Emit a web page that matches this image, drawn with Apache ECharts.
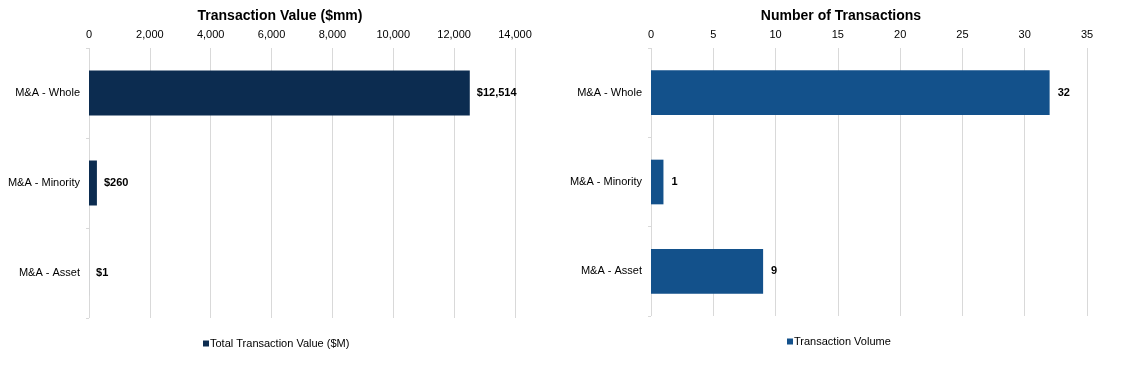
<!DOCTYPE html>
<html>
<head>
<meta charset="utf-8">
<script src="https://cdn.jsdelivr.net/npm/echarts@6/dist/echarts.min.js"></script>
<style>html,body{margin:0;padding:0;background:#fff;}#c{width:1124px;height:371px;}</style>
</head>
<body>
<div id="c"></div>
<script>
const categories = ["M&A - Whole", "M&A - Minority", "M&A - Asset"];
const valueData = [12514, 260, 1];
const volumeData = [32, 1, 9];
const leftTitle = "Transaction Value ($mm)";
const rightTitle = "Number of Transactions";
const leftSeriesName = "Total Transaction Value ($M)";
const rightSeriesName = "Transaction Volume";

const FONT = "Liberation Sans, Arial, sans-serif";
const chart = echarts.init(document.getElementById('c'), null, {renderer: 'canvas'});
const gridLine = '#d9d9d9';
function xAxisCfg(gi, max, interval, fmt) {
  return {
    type: 'value', gridIndex: gi, position: 'top', min: 0, max: max, interval: interval,
    axisLine: {show: false}, axisTick: {show: false},
    axisLabel: {color: '#000', fontFamily: FONT, fontSize: 11, margin: 8, formatter: fmt},
    splitLine: {show: true, lineStyle: {color: gridLine, width: 1}}
  };
}
function yAxisCfg(gi) {
  return {
    type: 'category', gridIndex: gi, data: categories, inverse: true,
    axisLine: {show: false},
    axisTick: {show: true, length: 3, lineStyle: {color: gridLine}},
    axisLabel: {color: '#000', fontFamily: FONT, fontSize: 11, margin: 9}
  };
}
chart.setOption({
  animation: false,
  textStyle: {fontFamily: FONT},
  title: [
    {text: leftTitle, left: 275, top: 4, textAlign: 'center', textStyle: {fontFamily: FONT, fontSize: 14, fontWeight: 'bold', color: '#000'}},
    {text: rightTitle, left: 836, top: 4, textAlign: 'center', textStyle: {fontFamily: FONT, fontSize: 14, fontWeight: 'bold', color: '#000'}}
  ],
  legend: [
    {data: [leftSeriesName], left: 198, top: 333, itemWidth: 6, itemHeight: 6, icon: 'rect',
     textStyle: {fontFamily: FONT, fontSize: 11, color: '#000', padding: [0, 0, 0, -4]}, selectedMode: false},
    {data: [rightSeriesName], left: 782, top: 331, itemWidth: 6, itemHeight: 6, icon: 'rect',
     textStyle: {fontFamily: FONT, fontSize: 11, color: '#000', padding: [0, 0, 0, -4]}, selectedMode: false}
  ],
  grid: [
    {left: 89, right: 609, top: 48, bottom: 53},
    {left: 651, right: 37, top: 48, bottom: 55}
  ],
  xAxis: [
    xAxisCfg(0, 14000, 2000, v => v.toLocaleString('en-US')),
    xAxisCfg(1, 35, 5, v => v)
  ],
  yAxis: [yAxisCfg(0), yAxisCfg(1)],
  series: [
    {name: leftSeriesName, type: 'bar', xAxisIndex: 0, yAxisIndex: 0, data: valueData, barWidth: '50%',
     itemStyle: {color: '#0c2c50'},
     label: {show: true, position: 'right', distance: 7, color: '#000', fontWeight: 'bold', fontSize: 11, fontFamily: FONT,
       formatter: p => '$' + p.value.toLocaleString('en-US')}},
    {name: rightSeriesName, type: 'bar', xAxisIndex: 1, yAxisIndex: 1, data: volumeData, barWidth: '50%',
     itemStyle: {color: '#13518b'},
     label: {show: true, position: 'right', distance: 8, color: '#000', fontWeight: 'bold', fontSize: 11, fontFamily: FONT}}
  ]
});
</script>
</body>
</html>
